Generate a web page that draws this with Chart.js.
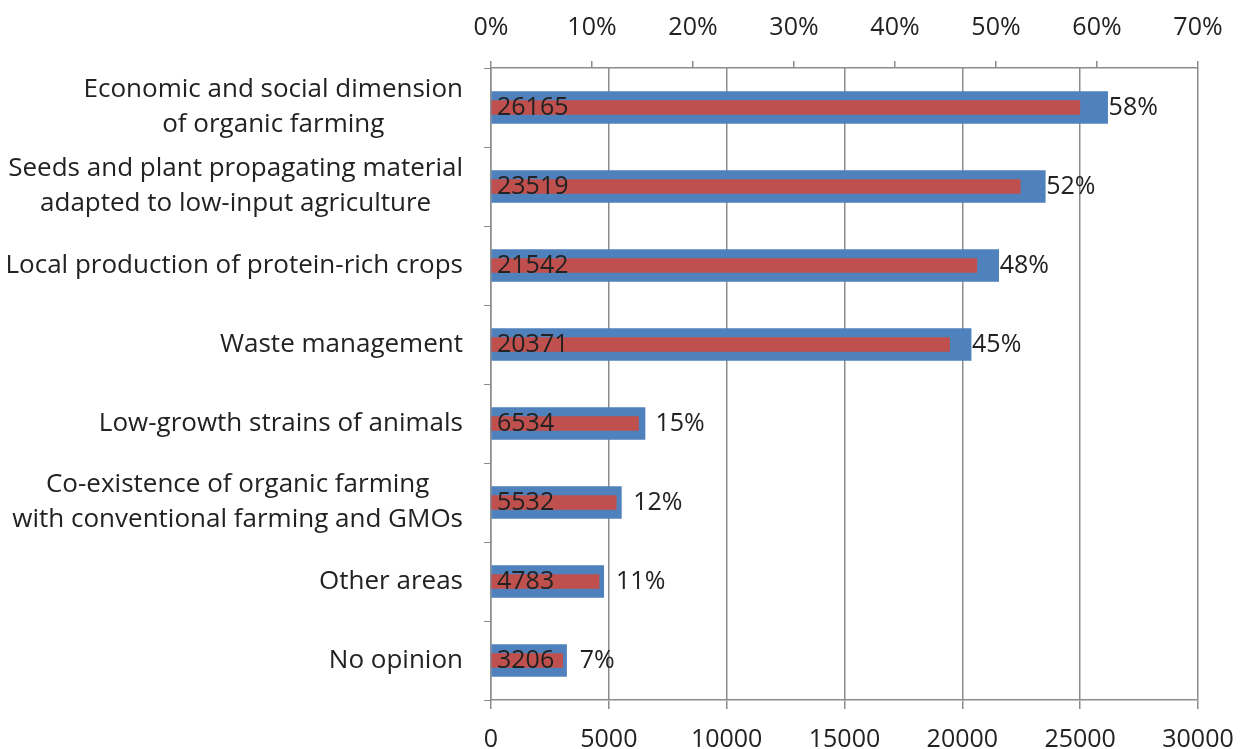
<!DOCTYPE html>
<html>
<head>
<meta charset="utf-8">
<script src="https://cdn.jsdelivr.net/npm/chart.js@4"></script>
<style>
  body { margin: 0; background: #fff; }
  #wrap { width: 1244px; height: 749px; position: relative; }
</style>
</head>
<body>
<div id="wrap"><canvas id="myChart"></canvas></div>
<script>
const categories = [
  ["Economic and social dimension", "of organic farming"],
  ["Seeds and plant propagating material", "adapted to low-input agriculture"],
  ["Local production of protein-rich crops"],
  ["Waste management"],
  ["Low-growth strains of animals"],
  ["Co-existence of organic farming", "with conventional farming and GMOs"],
  ["Other areas"],
  ["No opinion"],
];
const counts = [26165, 23519, 21542, 20371, 6534, 5532, 4783, 3206];
const percents = [58.3, 52.4, 48.1, 45.4, 14.6, 12.4, 10.7, 7.1];
const countTicks = [0, 5000, 10000, 15000, 20000, 25000, 30000];
const percentTicks = [0, 10, 20, 30, 40, 50, 60, 70];

const FONT = "'Open Sans'";
const CAT_SIZE = 26;
const FSIZE = 25;
const TEXT = "#222222";
const GRID = "#8c8c8c";

// draws category labels (centered lines, right aligned block) and bar labels
const labelPlugin = {
  id: "labels",
  afterDraw(chart) {
    const c = chart.ctx;
    const y = chart.scales.y;
    const x = chart.scales.x;
    const x2 = chart.scales.x2;
    c.save();
    c.fillStyle = TEXT;
    c.textBaseline = "middle";
    categories.forEach((lines, i) => {
      const cy = y.getPixelForValue(i);
      c.font = CAT_SIZE + "px " + FONT;
      const w = Math.max(...lines.map((l) => c.measureText(l).width));
      const cx = 463 - w / 2;
      const lh = 35;
      c.textAlign = "center";
      lines.forEach((l, j) => {
        c.fillText(l, cx, cy + (j - (lines.length - 1) / 2) * lh);
      });
      c.font = FSIZE + "px " + FONT;
      // count label inside bar
      c.textAlign = "left";
      c.fillText(String(counts[i]), x.getPixelForValue(0) + 6, cy);
      // percent label after bar
      const blueEnd = x.getPixelForValue(counts[i]);
      const redEnd = x2.getPixelForValue(percents[i]);
      c.fillText(Math.round(percents[i]) + "%", Math.max(blueEnd + 1, redEnd + 17), cy);
    });
    c.restore();
  },
};

const data = {
  labels: categories,
  datasets: [
    {
      label: "Percent",
      data: percents,
      xAxisID: "x2",
      backgroundColor: "#c0504d",
      barThickness: 14,
      grouped: false,
      order: 1,
    },
    {
      label: "Count",
      data: counts,
      xAxisID: "x",
      backgroundColor: "#4f81bd",
      barThickness: 32,
      grouped: false,
      order: 2,
    },
  ],
};

const config = {
  type: "bar",
  data,
  plugins: [labelPlugin],
  options: {
    indexAxis: "y",
    responsive: true,
    maintainAspectRatio: false,
    animation: false,
    layout: { padding: { left: 0, right: 46, top: 0, bottom: 0 } },
    scales: {
      y: {
        offset: true,
        ticks: { callback: () => "", padding: 0 },
        grid: {
          offset: true,
          drawOnChartArea: false,
          color: GRID,
          tickLength: 7,
        },
        border: { color: GRID, width: 1.5 },
        afterFit(scale) {
          scale.width = 491;
        },
      },
      x: {
        position: "bottom",
        min: 0,
        max: 30000,
        afterBuildTicks(scale) {
          scale.ticks = countTicks.map((v) => ({ value: v }));
        },
        ticks: {
          color: TEXT,
          font: { family: FONT, size: FSIZE },
          padding: 16,
          callback: (v) => String(v),
        },
        grid: { color: GRID, lineWidth: 1.5, tickLength: 9 },
        border: { color: GRID, width: 1.5 },
        afterFit(scale) {
          scale.height = 49;
          scale.paddingLeft = 0;
          scale.paddingRight = 0;
        },
      },
      x2: {
        position: "top",
        min: 0,
        max: 70,
        afterBuildTicks(scale) {
          scale.ticks = percentTicks.map((v) => ({ value: v }));
        },
        ticks: {
          color: TEXT,
          font: { family: FONT, size: FSIZE },
          padding: 18,
          callback: (v) => v + "%",
        },
        grid: { drawOnChartArea: false, color: GRID, lineWidth: 1.5, tickLength: 7 },
        border: { color: GRID, width: 1.5 },
        afterFit(scale) {
          scale.height = 68;
          scale.paddingLeft = 0;
          scale.paddingRight = 0;
        },
      },
    },
    plugins: {
      legend: { display: false },
      tooltip: { enabled: false },
    },
  },
};

const myChart = new Chart(document.getElementById("myChart"), config);
</script>
</body>
</html>
